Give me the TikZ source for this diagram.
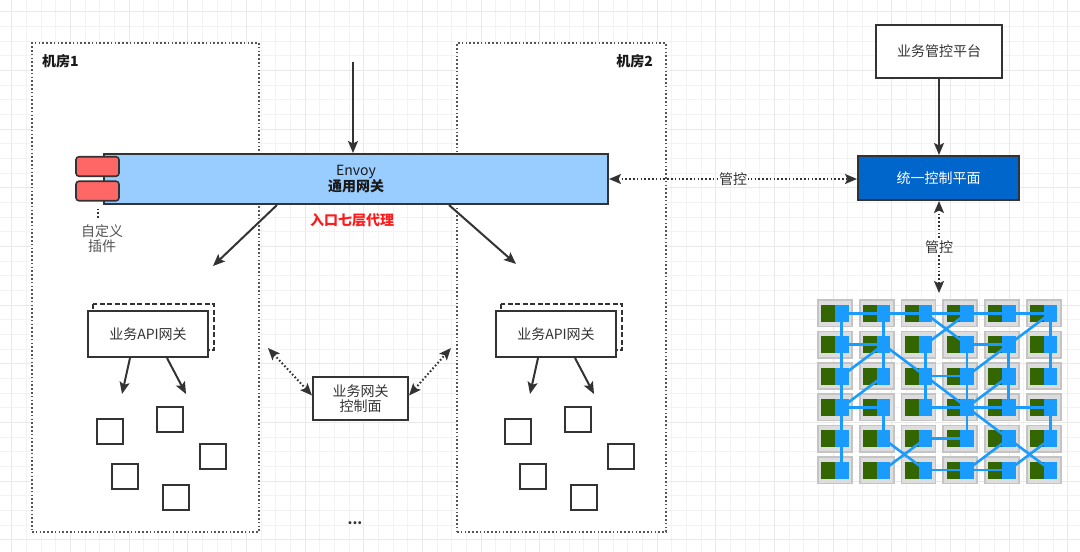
\documentclass[tikz,border=0pt]{standalone}
\usepackage{fontspec}
\setmainfont{Noto Sans CJK SC}
\usetikzlibrary{arrows.meta}
\definecolor{linec}{HTML}{333333}
\definecolor{textc}{HTML}{333333}
\definecolor{roomc}{HTML}{555555}
\definecolor{envoyc}{HTML}{99CCFF}
\definecolor{plugc}{HTML}{FF6666}
\definecolor{ctrlc}{HTML}{0066CC}
\definecolor{redt}{HTML}{FF1A1A}
\definecolor{gridmin}{HTML}{F3F3F3}
\definecolor{gridmaj}{HTML}{E9E9E9}
\definecolor{cellfill}{HTML}{DDDDDD}
\definecolor{celldraw}{HTML}{C4C4C4}
\definecolor{greenc}{HTML}{336600}
\definecolor{bluec}{HTML}{1A9CFF}
\definecolor{labelgray}{HTML}{555555}
\tikzset{
  gridminor/.style={draw=gridmin, line width=1pt},
  gridmajor/.style={draw=gridmaj, line width=1pt},
  room/.style={draw=roomc, line width=2pt, dash pattern=on 1.6pt off 2.2pt, fill=white, inner sep=0pt},
  box/.style={draw=linec, line width=2pt, fill=white, inner sep=0pt, text=textc, align=center},
  shadowbox/.style={draw=linec, line width=2pt, dash pattern=on 5pt off 2.5pt},
  plugin/.style={draw=linec, line width=1.6pt, fill=plugc, rounded corners=3pt, minimum width=43, minimum height=19.5, inner sep=0pt},
  arr/.style={draw=linec, line width=2pt, -{Stealth[length=12pt,width=10pt,inset=2.5pt]}},
  darr/.style={draw=linec, line width=2pt, dash pattern=on 1.6pt off 2.2pt, {Stealth[length=12pt,width=10pt,inset=2.5pt]}-{Stealth[length=12pt,width=10pt,inset=2.5pt]}},
  dotl/.style={draw=linec, line width=2pt, dash pattern=on 1.6pt off 2.2pt},
  sq/.style={draw=linec, line width=2pt, fill=white, minimum width=26, minimum height=25, inner sep=0pt},
  cellbox/.style={draw=celldraw, line width=1.6pt, fill=cellfill, minimum width=34, minimum height=26.5, inner sep=0pt},
  greenbox/.style={fill=greenc, minimum width=14, minimum height=17, inner sep=0pt},
  bluebox/.style={fill=bluec, minimum width=13.5, minimum height=17, inner sep=0pt},
  meshline/.style={draw=bluec, line width=2.6pt},
  lbl/.style={fill=white, inner sep=1pt, text=textc},
}
\begin{document}
\begin{tikzpicture}[x=1pt,y=-1pt, font=\fontsize{14}{15}\selectfont]
\useasboundingbox (0,0) rectangle (1080,552);
\fill[white] (0,0) rectangle (1080,552);
% background grid
\foreach \k in {-1,...,74}{
  \pgfmathsetmacro\p{11.73+14.667*\k}
  \draw[gridminor] (\p,0) -- (\p,552);
}
\foreach \k in {-1,...,38}{
  \pgfmathsetmacro\p{11.73+14.667*\k}
  \draw[gridminor] (0,\p) -- (1080,\p);
}
\foreach \k in {0,...,18}{
  \pgfmathsetmacro\p{11.73+58.667*\k}
  \draw[gridmajor] (\p,0) -- (\p,552);
}
\foreach \k in {0,...,9}{
  \pgfmathsetmacro\p{11.73+58.667*\k}
  \draw[gridmajor] (0,\p) -- (1080,\p);
}

% rooms
\node[room, minimum width=227, minimum height=489] (room1) at (145.5,287.5) {};
\node[room, minimum width=209, minimum height=489] (room2) at (561.5,287.5) {};
\node[font=\fontsize{14}{15}\selectfont\bfseries, text=black!90, anchor=west, inner sep=0pt] (room1lbl) at (42,61) {机房1};
\node[font=\fontsize{14}{15}\selectfont\bfseries, text=black!90, anchor=east, inner sep=0pt] (room2lbl) at (653,61) {机房2};

% envoy bar
\node[draw=linec, line width=2pt, fill=envoyc, minimum width=504, minimum height=50, inner sep=0pt, align=center, text=black!90] (envoy) at (356,179) {Envoy\\\textbf{通用网关}};
\node[plugin] (p1) at (97.5,166.5) {};
\node[plugin] (p2) at (97.5,191) {};
\node[text=labelgray, align=center, inner sep=0pt] (pluglbl) at (102,238.5) {自定义\\插件};
\draw[dotl, shorten <=7pt, shorten >=5pt] (p2.south) -- (p2.south |- pluglbl.north);
\node[text=redt, font=\fontsize{14}{15}\selectfont\bfseries, inner sep=0pt] (l7) at (352,220) {入口七层代理};

% incoming arrow
\coordinate (topin) at (353,62);
\draw[arr] (topin) -- (topin |- envoy.north);
\coordinate (e1) at (213,266);
\coordinate (e2) at (516,264);
\draw[arr] ([xshift=-79pt]envoy.south) -- (e1);
\draw[arr] ([xshift=93pt]envoy.south) -- (e2);

% API gateways
\draw[shadowbox] (93,304) rectangle (214,350);
\node[box, minimum width=120, minimum height=46] (api1) at (148,334) {业务API网关};
\draw[shadowbox] (501,304) rectangle (622,350);
\node[box, minimum width=120, minimum height=46] (api2) at (556,334) {业务API网关};
\coordinate (a11) at (122,394);
\coordinate (a12) at (186,394);
\coordinate (a21) at (530,394);
\coordinate (a22) at (594,394);
\draw[arr] ([xshift=-18pt]api1.south) -- (a11);
\draw[arr] ([xshift=19pt]api1.south) -- (a12);
\draw[arr] ([xshift=-18pt]api2.south) -- (a21);
\draw[arr] ([xshift=19pt]api2.south) -- (a22);

% services
\node[sq] (s11) at (110,431.5) {};
\node[sq] (s12) at (170,419.5) {};
\node[sq] (s13) at (212.5,456) {};
\node[sq] (s14) at (124.5,476) {};
\node[sq] (s15) at (176,497) {};
\node[sq] (s21) at (518,431.5) {};
\node[sq] (s22) at (578,419.5) {};
\node[sq] (s23) at (620.5,456) {};
\node[sq] (s24) at (532.5,476) {};
\node[sq] (s25) at (584,497) {};

% business gateway control plane
\node[box, minimum width=95, minimum height=43] (bctl) at (360.5,398.5) {业务网关\\控制面};
\coordinate (d1) at (268,348);
\coordinate (d2) at (451,348);
\draw[darr] (d1) -- ([yshift=3pt]bctl.west);
\draw[darr] ([yshift=3pt]bctl.east) -- (d2);
\node[text=linec, font=\fontsize{14}{15}\selectfont\bfseries, inner sep=0pt] (dots) at (355,523) {...};

% right side
\node[box, minimum width=126, minimum height=53] (plat) at (939,51.5) {业务管控平台};
\node[draw=linec, line width=2pt, fill=ctrlc, text=white, minimum width=161, minimum height=44, inner sep=0pt] (ctrl) at (938.5,178) {统一控制平面};
\draw[arr] (plat.south) -- (plat.south |- ctrl.north);
\draw[darr] (envoy.east) -- node[lbl] {管控} (envoy.east -| ctrl.west);
\coordinate (meshtop) at (939,293);
\draw[darr] (ctrl.south -| meshtop) -- node[lbl] {管控} (meshtop);

% mesh
\foreach \r in {1,...,6}{
  \foreach \c in {1,...,6}{
    \pgfmathsetmacro\X{818+41.75*(\c-1)}
    \pgfmathsetmacro\Y{300+31.35*(\r-1)}
    \node[cellbox] (c\r\c) at (\X+17,\Y+13.3) {};
    \node[greenbox] (g\r\c) at (\X+10.25,\Y+13.3) {};
    \node[bluebox] (b\r\c) at (\X+23.75,\Y+13.3) {};
  }
}
\foreach \a/\b in {11/12,12/13,13/14,14/15,15/16,
  11/21,21/31,31/41,41/51,51/61,
  21/22,12/22,22/32,22/31,22/33,32/41,41/42,42/52,52/63,53/62,
  13/24,14/23,23/33,33/43,33/34,33/44,43/44,44/45,45/46,
  24/25,25/16,16/26,26/36,46/56,
  24/34,34/44,44/54,53/54,34/25,25/35,35/45,44/35,44/55,
  63/64,64/65,64/55,55/66,56/65}{
  \draw[meshline] (b\a.center) -- (b\b.center);
}
\end{tikzpicture}
\end{document}
